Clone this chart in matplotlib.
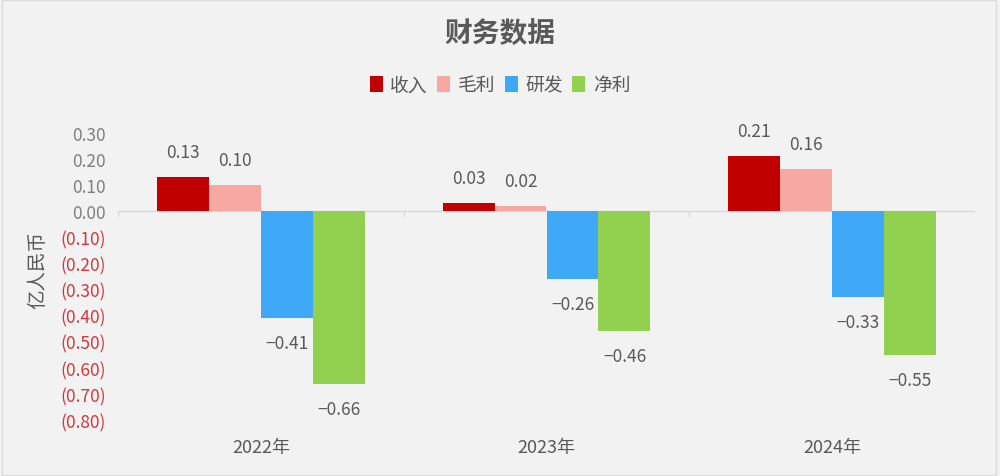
import matplotlib

matplotlib.use("Agg")
import matplotlib.pyplot as plt  # noqa: E402
import numpy as np  # noqa: E402
from matplotlib.patches import Rectangle  # noqa: E402
from matplotlib.ticker import FuncFormatter  # noqa: E402

plt.rcParams["font.family"] = ["Noto Sans CJK SC", "DejaVu Sans"]

years = ["2022年", "2023年", "2024年"]
series_names = ["收入", "毛利", "研发", "净利"]
revenue = [0.13, 0.03, 0.21]
gross = [0.10, 0.02, 0.16]
rnd = [-0.41, -0.26, -0.33]
net = [-0.66, -0.46, -0.55]
y_ticks = [0.3, 0.2, 0.1, 0.0, -0.1, -0.2, -0.3, -0.4, -0.5, -0.6, -0.7, -0.8]

colors = ["#C00000", "#F8A8A2", "#3FA9F7", "#92D050"]
bg = "#F2F2F2"
text_c = "#595959"

fig = plt.figure(figsize=(10, 4.77), dpi=100, facecolor=bg)
fig.patches.append(Rectangle((0.002, 0.003), 0.994, 0.994, transform=fig.transFigure,
                             fill=False, edgecolor="#DCDCDC", lw=1))
ax = fig.add_axes([0.118, 0.117, 0.857, 0.603])
ax.set_facecolor(bg)

x = np.arange(len(years))
width = 0.182
for i, (name, vals) in enumerate(zip(series_names, [revenue, gross, rnd, net])):
    pos = x + (i - 1.5) * width
    ax.bar(pos, vals, width, color=colors[i], label=name, zorder=2)
    for px, v in zip(pos, vals):
        off = 18 if v >= 0 else -18
        txt = f"{v:.2f}" if v >= 0 else f"\u2212{abs(v):.2f}"
        ax.annotate(txt, (px, v), xytext=(0, off), textcoords="offset points",
                    ha="center", va="center", fontsize=12.5, color=text_c,
                    fontweight="light")

# zero line with category boundary ticks
ax.axhline(0, color="#D9D9D9", lw=1, zorder=1)
ax.vlines(np.arange(len(years) + 1) - 0.5, -0.018, 0, color="#D9D9D9", lw=1, zorder=1)

ax.set_xlim(-0.5, len(years) - 0.5)
ax.set_ylim(-0.8, 0.3)
ax.set_yticks(y_ticks)
ax.yaxis.set_major_formatter(FuncFormatter(
    lambda v, _: f"{v:.2f}" if v >= -1e-9 else f"({abs(v):.2f})"))
for lab, v in zip(ax.get_yticklabels(), y_ticks):
    lab.set_color("#7F7F7F" if v >= 0 else "#D03A3A")
    lab.set_fontweight("light")
ax.tick_params(axis="y", length=0, pad=9, labelsize=12.5)
ax.set_xticks(x)
ax.set_xticklabels(years)
ax.tick_params(axis="x", length=0, pad=13, labelsize=13, labelcolor=text_c)
for s in ax.spines.values():
    s.set_visible(False)

fig.text(0.038, 0.434, "亿人民币", rotation=90, ha="center", va="center",
         fontsize=14, color=text_c)
fig.text(0.5, 0.927, "财务数据", ha="center", va="center", fontsize=20,
         fontweight="bold", color=text_c)
fig.legend(loc="center", bbox_to_anchor=(0.5, 0.82), ncol=4, frameon=False,
           fontsize=13.5, handlelength=0.7, handleheight=0.9, handletextpad=0.4,
           columnspacing=0.5, labelcolor=text_c)

fig.savefig("out.png", dpi=100, facecolor=bg)
